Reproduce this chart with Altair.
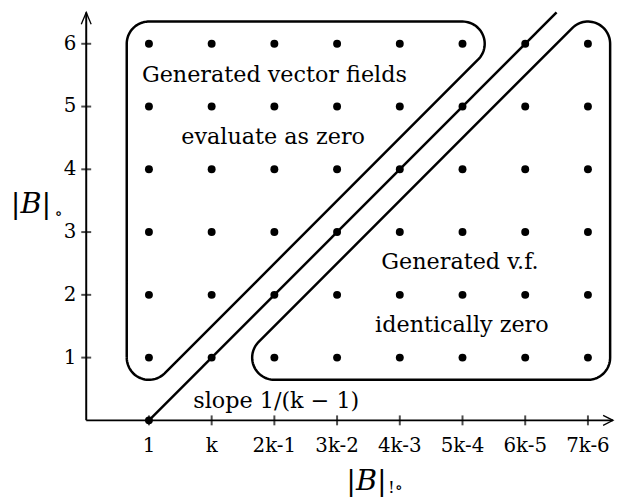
import altair as alt
import numpy as np
import pandas as pd

# ---------------- data ----------------
x_tick_pos = [1, 2, 3, 4, 5, 6, 7, 8]
x_tick_labels = ["1", "k", "2k-1", "3k-2", "4k-3", "5k-4", "6k-5", "7k-6"]
y_tick_pos = [1, 2, 3, 4, 5, 6]
y_tick_labels = ["1", "2", "3", "4", "5", "6"]
grid_cols = [1, 2, 3, 4, 5, 6, 7, 8]
grid_rows = [1, 2, 3, 4, 5, 6]
origin_dot_x = [1]
origin_dot_y = [0]
slope_x = [1, 7.5]
slope_y = [0, 6.5]
upper_region = [(1, 1), (6, 6), (1, 6)]
lower_region = [(3, 1), (8, 1), (8, 6)]
region_radius = 0.354
x_axis_end = 8.4
y_axis_end = 6.5
note_text = ["Generated vector fields", "evaluate as zero", "Generated v.f.",
             "identically zero", "slope 1/(k \u2212 1)"]
note_x = [3.0, 2.98, 5.96, 5.99, 3.03]
note_y = [5.5, 4.52, 2.52, 1.52, 0.30]
title_main = ["|B|", "|B|"]
title_main_x = [-0.88, 4.47]
title_main_y = [3.45, -0.96]
title_sub = ["\u2218", "!\u2218"]
title_sub_x = [-0.44, 4.93]
title_sub_y = [3.28, -1.08]

FONT = "DejaVu Serif"
X = alt.Scale(domain=[0, x_axis_end], nice=False, zero=False)
Y = alt.Scale(domain=[0, y_axis_end], nice=False, zero=False)


def rounded_outline(verts, r, name, steps=30):
    xs, ys = [], []
    n = len(verts)

    def normal_angle(p, q):
        dx, dy = q[0] - p[0], q[1] - p[1]
        return np.degrees(np.arctan2(-dx, dy))

    for i in range(n):
        prev, cur, nxt = verts[i - 1], verts[i], verts[(i + 1) % n]
        a0 = normal_angle(prev, cur)
        a1 = normal_angle(cur, nxt)
        if a1 < a0:
            a1 += 360
        for a in np.linspace(a0, a1, steps):
            t = np.radians(a)
            xs.append(cur[0] + r * np.cos(t))
            ys.append(cur[1] + r * np.sin(t))
    xs.append(xs[0])
    ys.append(ys[0])
    return pd.DataFrame({"x": xs, "y": ys, "order": list(range(len(xs))), "shape": name})


regions_df = pd.concat([
    rounded_outline(upper_region, region_radius, "upper"),
    rounded_outline(lower_region, region_radius, "lower"),
])

dots_df = pd.DataFrame([(c, r) for r in grid_rows for c in grid_cols], columns=["x", "y"])
dots_df = pd.concat([dots_df, pd.DataFrame({"x": origin_dot_x, "y": origin_dot_y})])

slope_df = pd.DataFrame({"x": slope_x, "y": slope_y})

axes_df = pd.DataFrame({"x": [0, 0], "x2": [x_axis_end, 0], "y": [0, 0], "y2": [0, y_axis_end]})

xt_df = pd.DataFrame({"x": x_tick_pos, "y": [0] * len(x_tick_pos), "label": x_tick_labels})
yt_df = pd.DataFrame({"x": [0] * len(y_tick_pos), "y": y_tick_pos, "label": y_tick_labels})
notes_df = pd.DataFrame({"x": note_x, "y": note_y, "text": note_text})
tmain_df = pd.DataFrame({"x": title_main_x, "y": title_main_y, "text": title_main})
tsub_df = pd.DataFrame({"x": title_sub_x, "y": title_sub_y, "text": title_sub})

enc = dict(x=alt.X("x:Q", scale=X, axis=None), y=alt.Y("y:Q", scale=Y, axis=None))

regions = alt.Chart(regions_df).mark_line(color="black", strokeWidth=2.5, clip=False).encode(
    order="order:Q", detail="shape:N", **enc)

slope = alt.Chart(slope_df).mark_line(color="black", strokeWidth=2.5, clip=False).encode(**enc)

axes = alt.Chart(axes_df).mark_rule(color="black", strokeWidth=2).encode(
    x2="x2:Q", y2="y2:Q", **enc)

xarrow = alt.Chart(pd.DataFrame({"x": [x_axis_end], "y": [0]})).mark_point(
    shape="M-2,-1L0,0L-2,1", size=100, filled=False, color="black", strokeWidth=1.3, opacity=1
).encode(**enc)
yarrow = alt.Chart(pd.DataFrame({"x": [0], "y": [y_axis_end]})).mark_point(
    shape="M-1,2.4L0,0L1,2.4", size=100, filled=False, color="black", strokeWidth=1.3, opacity=1
).encode(**enc)

xticks = alt.Chart(xt_df).mark_tick(orient="vertical", size=10, thickness=2, color="black").encode(**enc)
yticks = alt.Chart(yt_df).mark_tick(orient="horizontal", size=10, thickness=2, color="black").encode(**enc)

xlabels = alt.Chart(xt_df).mark_text(font=FONT, fontSize=20, dy=26, color="black").encode(
    text="label:N", **enc)
ylabels = alt.Chart(yt_df).mark_text(font=FONT, fontSize=20, dx=-10, align="right", color="black").encode(
    text="label:N", **enc)

dots = alt.Chart(dots_df).mark_circle(size=64, color="black", opacity=1).encode(**enc)

notes = alt.Chart(notes_df).mark_text(font=FONT, fontSize=22.5, color="black").encode(text="text:N", **enc)

tmain = alt.Chart(tmain_df).mark_text(font=FONT, fontSize=29, fontStyle="italic", color="black").encode(
    text="text:N", **enc)
tsub = alt.Chart(tsub_df).mark_text(font=FONT, fontSize=17, color="black").encode(text="text:N", **enc)

chart = alt.layer(regions, slope, axes, xarrow, yarrow, xticks, yticks, xlabels, ylabels,
                  dots, notes, tmain, tsub).properties(
    width=532, height=412,
    padding={"left": 79, "top": 2, "right": 2, "bottom": 80},
    autosize=alt.AutoSizeParams(type="none"),
).configure_view(stroke=None)

chart.save("out.html", embed_options={"renderer": "svg", "actions": False})
